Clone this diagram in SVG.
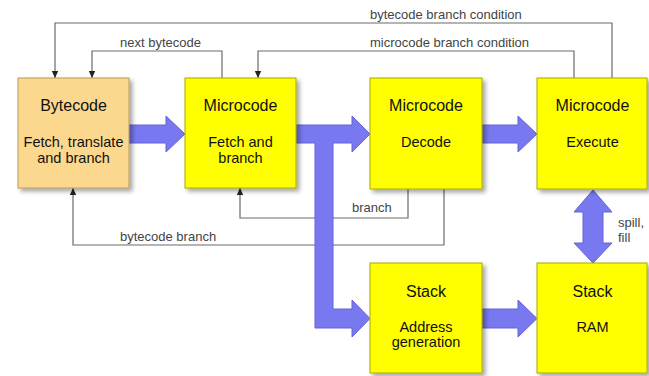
<svg xmlns="http://www.w3.org/2000/svg" width="649" height="376" viewBox="0 0 649 376">
<defs>
<filter id="sh" x="-10%" y="-10%" width="130%" height="130%">
<feDropShadow dx="3" dy="3" stdDeviation="2" flood-color="#000" flood-opacity="0.35"/>
</filter>
<marker id="ah" markerUnits="userSpaceOnUse" markerWidth="8" markerHeight="8" refX="7" refY="4" orient="auto">
<path d="M0,0.8 L7,4 L0,7.2 Z" fill="#222"/>
</marker>
</defs>
<style>
.box{stroke-width:1;filter:url(#sh)}
.y{fill:#ffff00;stroke:#a8a800}
.o{fill:#fcd88e;stroke:#b8985a}
.t{font-family:"Liberation Sans",Arial,sans-serif;font-size:16px;fill:#111;text-anchor:middle}
.b{font-family:"Liberation Sans",Arial,sans-serif;font-size:14.5px;fill:#111;text-anchor:middle}
.l{font-family:"Liberation Sans",Arial,sans-serif;font-size:13px;fill:#444}
.ln{fill:none;stroke:#6a6a6a;stroke-width:1.2;marker-end:url(#ah)}
.fat{fill:#7878f0;stroke:#6262d8;stroke-width:1}
</style>
<g id="connectors">
<path class="ln" d="M612,78 V23 H55 V78"/>
<path class="ln" d="M574,78 V51 H258 V78"/>
<path class="ln" d="M222,78 V51 H92 V78"/>
<path class="ln" d="M408,189 V218 H240 V188"/>
<path class="ln" d="M444,189 V245 H73 V188"/>
<text class="l" x="370" y="19">bytecode branch condition</text>
<text class="l" x="370" y="47">microcode branch condition</text>
<text class="l" x="120" y="47">next bytecode</text>
<text class="l" x="352" y="212">branch</text>
<text class="l" x="120" y="241">bytecode branch</text>
<text class="l" x="618" y="227">spill,</text>
<text class="l" x="618" y="242">fill</text>
<path class="fat" d="M129,125 H166 V116 L185,134 L166,152 V143 H129 Z"/>
<path class="fat" d="M296,125 H352 V116 L370,134 L352,152 V143 H333 V309 H352 V300 L370,318.5 L352,337 V328 H315 V143 H296 Z"/>
<path class="fat" d="M482,125 H518 V116 L537,134 L518,152 V143 H482 Z"/>
<path class="fat" d="M482,309 H518 V300 L537,318.5 L518,337 V328 H482 Z"/>
<path class="fat" d="M593,190 L612,212 H603 V243 H612 L593,263 L574,243 H583 V212 H574 Z"/>
</g>
<g id="bytecode">
<rect class="box o" x="18" y="78" width="111" height="110"/>
<text class="t" x="73.5" y="111">Bytecode</text>
<text class="b" x="73.5" y="147">Fetch, translate</text>
<text class="b" x="73.5" y="163">and branch</text>
</g>
<g id="mc-fetch">
<rect class="box y" x="185" y="78" width="111" height="110"/>
<text class="t" x="240.5" y="111">Microcode</text>
<text class="b" x="240.5" y="147">Fetch and</text>
<text class="b" x="240.5" y="163">branch</text>
</g>
<g id="mc-decode">
<rect class="box y" x="370" y="78" width="112" height="111"/>
<text class="t" x="426" y="111">Microcode</text>
<text class="b" x="426" y="147">Decode</text>
</g>
<g id="mc-execute">
<rect class="box y" x="537" y="78" width="110" height="111"/>
<text class="t" x="592.5" y="111">Microcode</text>
<text class="b" x="592.5" y="147">Execute</text>
</g>
<g id="stack-addr">
<rect class="box y" x="370" y="263" width="112" height="110"/>
<text class="t" x="426" y="297">Stack</text>
<text class="b" x="426" y="332">Address</text>
<text class="b" x="426" y="347">generation</text>
</g>
<g id="stack-ram">
<rect class="box y" x="537" y="263" width="110" height="110"/>
<text class="t" x="592.5" y="297">Stack</text>
<text class="b" x="592.5" y="332">RAM</text>
</g>
</svg>
